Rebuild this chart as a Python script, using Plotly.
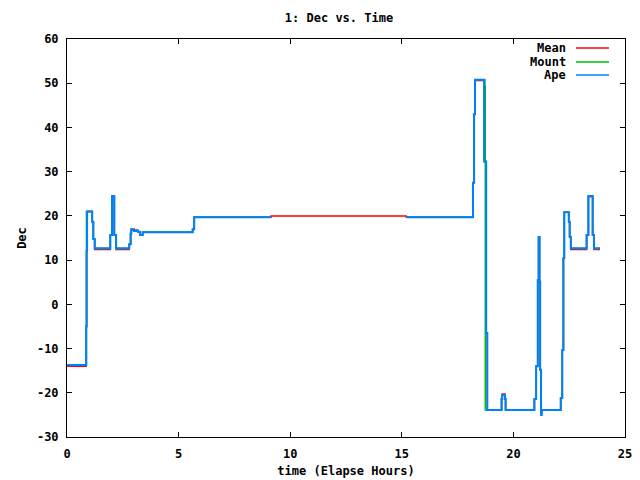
import plotly.graph_objects as go

# ---- data (hours, degrees) ----
ape_t = [0.0, 0.86, 0.88, 0.90, 1.13, 1.18, 1.24, 1.94, 2.02, 2.12, 2.20, 2.79, 2.85, 2.88,
         3.00, 3.17, 3.27, 3.39, 5.63, 5.70, 9.14, 9.15, 15.2, 18.19, 18.24, 18.28, 18.69, 18.78,
         18.83, 19.47, 19.50, 19.62, 19.65, 20.94, 21.02, 21.09, 21.13, 21.17, 21.20, 21.24,
         21.27, 22.12, 22.19, 22.24, 22.28, 22.48, 22.52, 22.57, 23.28, 23.36, 23.55, 23.61, 23.88]
ape_dec = [-13.7, -5.0, 12.0, 21.0, 18.7, 14.8, 12.7, 15.7, 24.5, 15.7, 12.7, 13.6, 15.9, 17.0,
           16.6, 16.4, 15.7, 16.3, 17.0, 19.7, 19.7, None, 19.7, 27.5, 43.0, 50.8, 32.3, -6.5,
           -23.9, -21.4, -20.5, -21.4, -23.9, -21.4, -14.0, 5.5, 15.2, 5.1, -14.8, -25.0,
           -23.9, -21.2, -10.3, 10.4, 20.8, 18.7, 15.3, 12.7, 15.7, 24.5, 15.7, 12.7, 12.7]

mount_t = [0.0, 0.87, 1.13, 1.18, 1.24, 1.94, 2.02, 2.12, 2.20, 2.79, 2.85, 2.88, 3.00, 3.17,
           3.27, 3.39, 5.63, 5.70, 9.14, 9.15, 15.2, 18.19, 18.24, 18.28, 18.72, 18.74, 19.47, 19.50,
           19.62, 19.65, 20.94, 21.02, 21.09, 21.13, 21.17, 21.20, 21.24, 21.27, 22.12, 22.19,
           22.24, 22.28, 22.48, 22.52, 22.57, 23.28, 23.36, 23.55, 23.61, 23.88]
mount_dec = [-13.8, 21.0, 18.7, 14.8, 12.6, 15.7, 24.5, 15.7, 12.6, 13.6, 15.9, 17.0, 16.6, 16.4,
             15.7, 16.3, 17.0, 19.7, 19.7, None, 19.7, 27.5, 43.0, 50.8, 49.4, -23.9, -21.4, -20.5,
             -21.4, -23.9, -21.4, -14.0, 5.5, 15.2, 5.1, -14.8, -23.9, -23.9, -21.2, -10.3,
             10.4, 20.8, 18.7, 15.3, 12.6, 15.7, 24.5, 15.7, 12.6, 12.6]

mean_t = [0.0, 0.86, 0.88, 0.90, 1.13, 1.18, 1.24, 1.94, 2.02, 2.12, 2.20, 2.79, 2.85, 2.88,
          3.17, 3.27, 3.39, 5.63, 5.70, 9.14, 15.2, 18.19, 18.24, 18.28, 18.69, 18.78, 18.83,
          19.47, 19.50, 19.62, 19.65, 20.94, 21.02, 21.09, 21.13, 21.17, 21.20, 21.24, 21.27,
          22.12, 22.19, 22.24, 22.28, 22.48, 22.52, 22.57, 23.28, 23.36, 23.55, 23.61, 23.88]
mean_dec = [-14.0, -5.0, 12.0, 21.0, 18.7, 14.8, 12.4, 15.7, 24.3, 15.7, 12.4, 13.6, 16.0, 16.8,
            16.4, 15.7, 16.3, 17.0, 19.7, 20.0, 19.7, 27.5, 43.0, 50.6, 32.3, -6.5, -23.9,
            -21.4, -20.3, -21.4, -23.9, -21.4, -14.0, 5.5, 15.2, 5.1, -14.8, -24.5, -23.9,
            -21.2, -10.3, 10.4, 20.8, 18.7, 15.3, 12.4, 15.7, 24.3, 15.7, 12.4, 12.4]

series = [("Mean", mean_t, mean_dec, "#ff0000", 1.5),
          ("Mount", mount_t, mount_dec, "#00c000", 1.5),
          ("Ape", ape_t, ape_dec, "#0080ff", 2.0)]

x_ticks = [0, 5, 10, 15, 20, 25]
y_ticks = [-30, -20, -10, 0, 10, 20, 30, 40, 50, 60]

FONT = "DejaVu Sans Mono"

fig = go.Figure()
for name, t, d, c, w in series:
    fig.add_trace(go.Scatter(x=t, y=d, mode="lines", name=name,
                             line=dict(color=c, width=w, shape="hv"),
                             connectgaps=False, showlegend=False))

# gnuplot-style legend: text on the left, line sample on the right
L, R, T, B = 67, 625, 39, 437
W, H = R - L, B - T
legend_rows = [("Mean", 48, "#ff0000"), ("Mount", 62, "#00c000"), ("Ape", 75, "#0080ff")]
for name, py, c in legend_rows:
    yy = (B - py) / H
    fig.add_annotation(x=(568 - L) / W, y=yy, xref="paper", yref="paper", text=name,
                       showarrow=False, xanchor="right", yanchor="middle",
                       font=dict(family=FONT, size=12, color="black", weight="bold"))
    fig.add_shape(type="line", xref="paper", yref="paper",
                  x0=(576 - L) / W, x1=(609 - L) / W, y0=yy, y1=yy,
                  line=dict(color=c, width=1.5))

axis_common = dict(showline=True, linecolor="black", linewidth=1, mirror="ticks",
                   ticks="inside", ticklen=5, tickcolor="black", showgrid=False,
                   zeroline=False, automargin=False,
                   tickfont=dict(family=FONT, size=12, color="black", weight="bold"))

fig.update_layout(
    width=640, height=480,
    margin=dict(l=L, r=640 - R, t=T, b=480 - B),
    paper_bgcolor="white", plot_bgcolor="white",
    title=dict(text="1: Dec vs. Time", x=(339 / 640), xref="container", xanchor="center",
               y=1 - 18 / 480, yref="container", yanchor="middle",
               font=dict(family=FONT, size=12, color="black", weight="bold")),
    xaxis=dict(range=[0, 25], tickvals=x_ticks, ticktext=[str(v) for v in x_ticks],
               ticklabelstandoff=6,
               title=dict(text="time (Elapse Hours)", standoff=6,
                          font=dict(family=FONT, size=12, color="black", weight="bold")),
               **axis_common),
    yaxis=dict(range=[-30, 60], tickvals=y_ticks, ticktext=[str(v) for v in y_ticks],
               ticklabelstandoff=5,
               title=dict(text="Dec", standoff=7,
                          font=dict(family=FONT, size=12, color="black", weight="bold")),
               **axis_common),
)

fig.write_html("out.html")
